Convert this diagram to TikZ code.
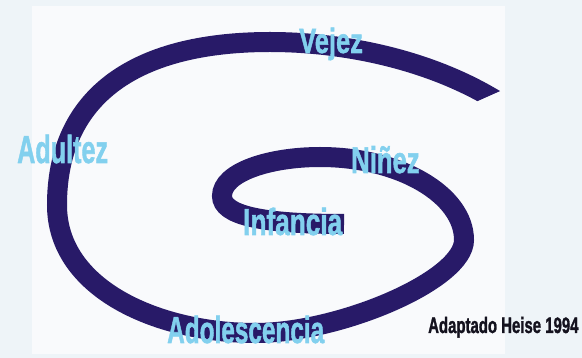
\documentclass[tikz,border=0pt]{standalone}
\usepackage{fontspec}
\setmainfont{Liberation Sans}
\newfontfamily\labfont{Liberation Sans}[BoldFeatures={FakeBold=1.6}]
\definecolor{band}{RGB}{40,26,104}
\definecolor{lab}{RGB}{130,208,238}
\definecolor{bgc}{RGB}{238,244,248}
\definecolor{paper}{RGB}{249,250,252}
\definecolor{ink}{RGB}{20,18,30}
\begin{document}
\begin{tikzpicture}[x=1pt,y=-1pt,
  lbl/.style={anchor=base west, inner sep=0pt, text=lab},
  bandline/.style={draw=band, line width=20pt, line cap=butt}]
\useasboundingbox (0,0) rectangle (582,358);
\fill[bgc] (0,0) rectangle (582,358);
\fill[paper] (32,6) rectangle (505,354);
% spiral
\draw[bandline] (344,224) .. controls (260,224) and (222,215) .. (222,196)
  .. controls (222,172) and (270,157) .. (320,157)
  .. controls (400,157) and (464,195) .. (464,240)
  .. controls (464,280) and (340,333) .. (255,333)
  .. controls (160,333) and (57,290) .. (57,205)
  .. controls (57,100) and (130,42) .. (270,42);
\begin{scope}
\clip (250,0) -- (600,0) -- (600,46.7) -- (430,122.2) -- (250,122.2) -- cycle;
\draw[bandline] (270,42) .. controls (345,42) and (435,60) .. (505,106);
\end{scope}
% labels
\node[lbl, font=\labfont\bfseries\fontsize{34.9}{40}\selectfont] (vejez) at (299,53) {\scalebox{0.73}[1]{Vejez}};
\node[lbl, font=\labfont\bfseries\fontsize{39}{44}\selectfont] (adultez) at (17,163) {\scalebox{0.645}[1]{Adultez}};
\node[lbl, font=\labfont\bfseries\fontsize{37.2}{42}\selectfont] (ninez) at (351,173) {\scalebox{0.69}[1]{Niñez}};
\node[lbl, font=\labfont\bfseries\fontsize{37.7}{42}\selectfont] (infancia) at (243,235) {\scalebox{0.695}[1]{Infancia}};
\node[lbl, font=\labfont\bfseries\fontsize{37.7}{42}\selectfont] (adol) at (167,343) {\scalebox{0.646}[1]{Adolescencia}};
\node[anchor=base west, inner sep=0pt, text=ink, font=\labfont\bfseries\fontsize{22.3}{26}\selectfont] (src) at (428,333) {\scalebox{0.67}[1]{Adaptado Heise 1994}};
\end{tikzpicture}
\end{document}
